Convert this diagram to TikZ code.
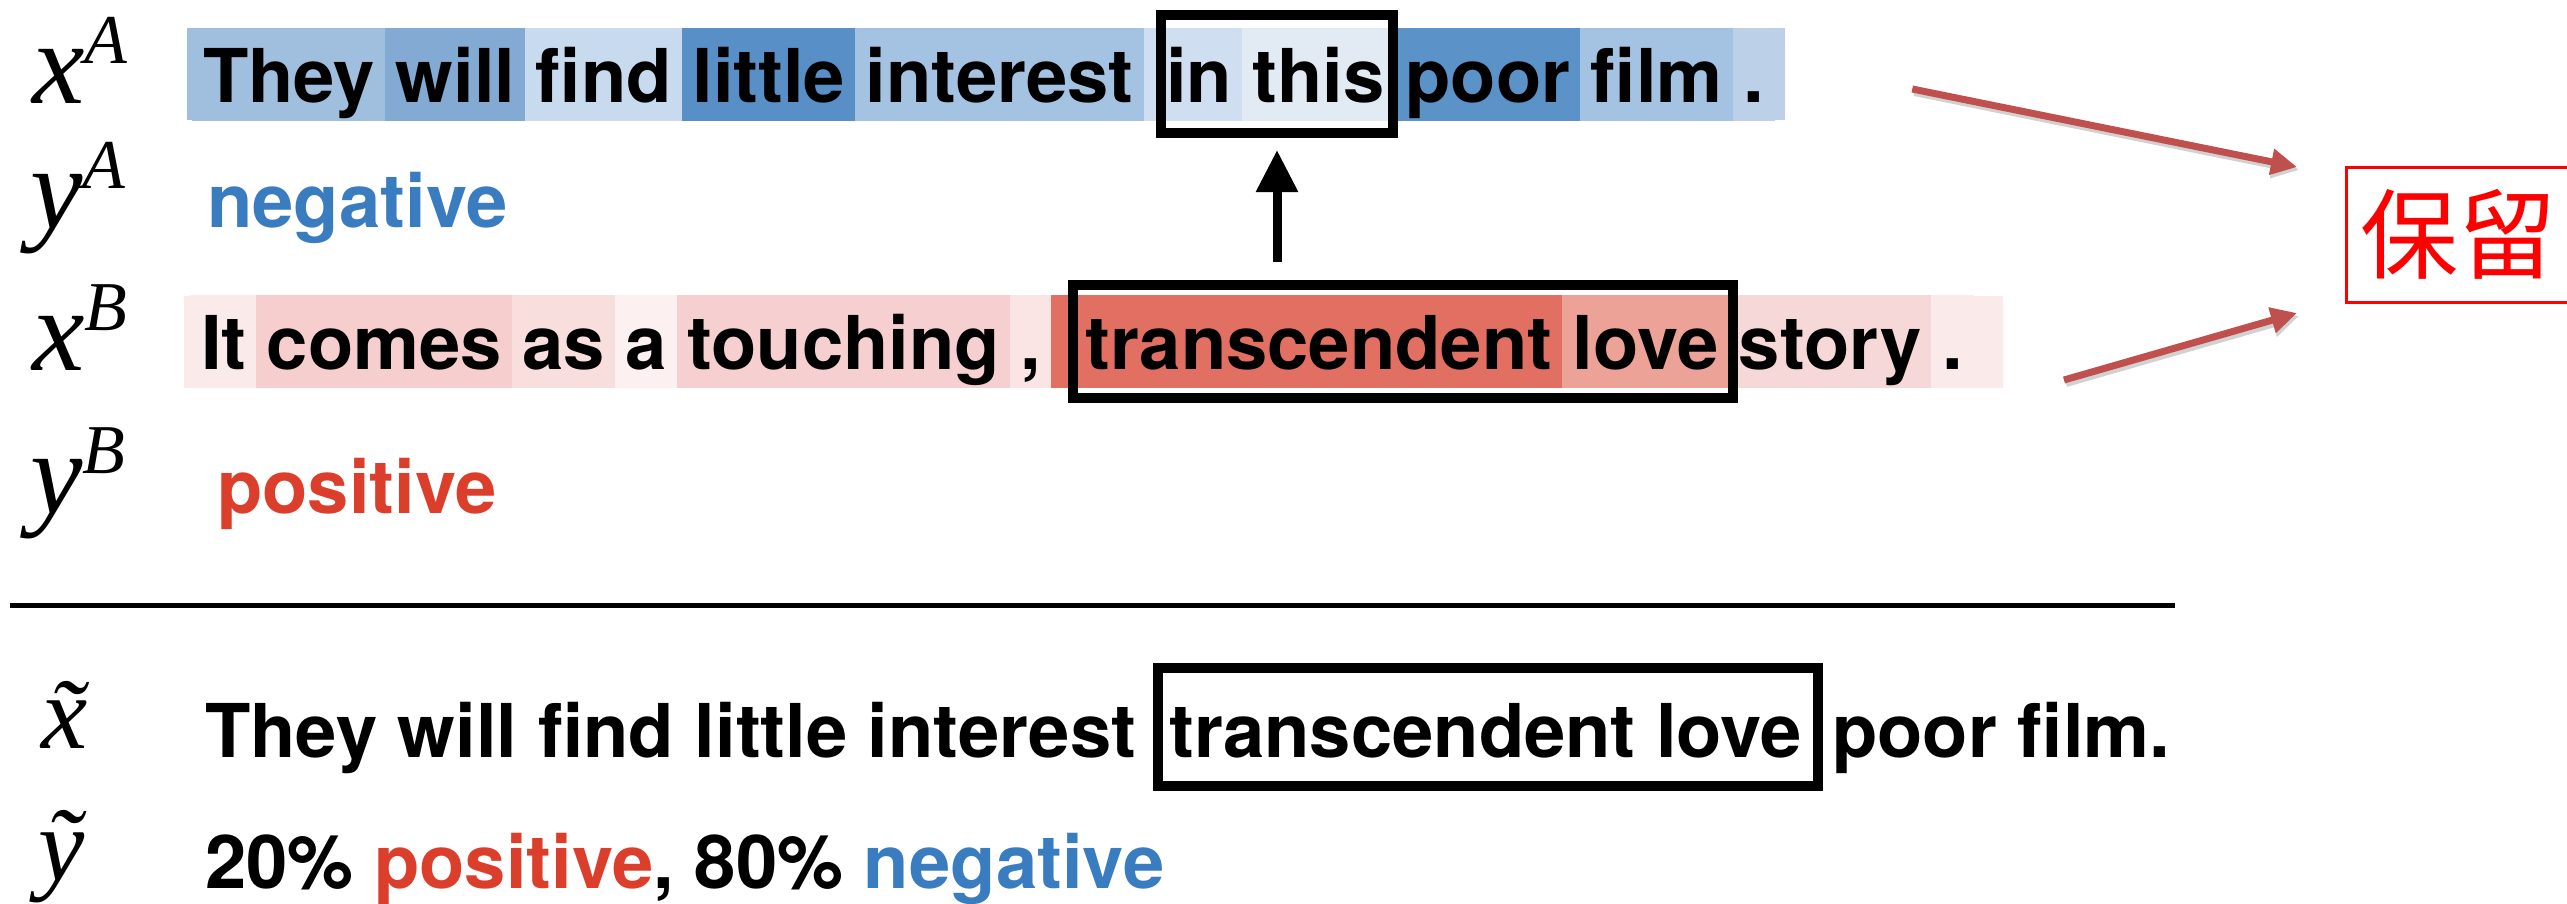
\documentclass[tikz,border=0pt]{standalone}
\usepackage{fontspec}
\usetikzlibrary{arrows.meta}

\newfontfamily\herosface{TeX Gyre Heros}
\newfontfamily\serifface{Liberation Serif}
\newfontfamily\cjkface{Noto Sans CJK SC}

\newcommand\tokfont{\herosface\bfseries\fontsize{74.2pt}{80pt}\selectfont}
\newcommand\labfont{\serifface\itshape\fontsize{118pt}{120pt}\selectfont}
\newcommand\tilfont{\serifface\itshape\fontsize{104pt}{106pt}\selectfont}
\newcommand\suplabel[2]{#1\raisebox{40pt}{\fontsize{70pt}{72pt}\selectfont #2}}

% attention shades, sentence A (blue)
\definecolor{a1}{RGB}{160,190,222}
\definecolor{a2}{RGB}{130,170,210}
\definecolor{a3}{RGB}{200,218,238}
\definecolor{a4}{RGB}{88,143,199}
\definecolor{a5}{RGB}{164,194,225}
\definecolor{a6}{RGB}{207,222,240}
\definecolor{a7}{RGB}{226,234,244}
\definecolor{a8}{RGB}{91,146,200}
\definecolor{a9}{RGB}{164,194,226}
\definecolor{a10}{RGB}{188,208,232}
% attention shades, sentence B (red)
\definecolor{b1}{RGB}{251,234,234}
\definecolor{b2}{RGB}{246,206,206}
\definecolor{b3}{RGB}{249,222,222}
\definecolor{b4}{RGB}{252,240,240}
\definecolor{b5}{RGB}{246,208,208}
\definecolor{b6}{RGB}{251,228,228}
\definecolor{b7}{RGB}{226,112,98}
\definecolor{b8}{RGB}{236,162,150}
\definecolor{b9}{RGB}{247,216,216}
\definecolor{b10}{RGB}{251,234,234}

\definecolor{negblue}{RGB}{58,124,192}
\definecolor{posred}{RGB}{219,63,44}
\definecolor{arrowred}{RGB}{192,80,77}
\definecolor{keepred}{RGB}{255,0,0}

\begin{document}
\begin{tikzpicture}[x=1pt,y=-1pt,
  tok/.style={inner xsep=10.3pt, inner ysep=0pt, outer sep=0pt, anchor=west,
    text height=74pt, text depth=18pt, font=\tokfont, line width=0.6pt},
  txt/.style={inner sep=0pt, anchor=base west, font=\tokfont},
  lab/.style={inner sep=0pt, anchor=base west, font=\labfont},
  hbox/.style={draw=black, line width=10pt, inner sep=0pt, outer sep=0pt},
  blkarrow/.style={draw=black, line width=9pt, -{Triangle[length=42pt,width=40pt]}},
  redarrow/.style={draw=arrowred, line width=7pt, -{Triangle[length=26pt,width=25pt]}},
  redshadow/.style={draw=black, opacity=0.18, line width=8pt, -{Triangle[length=27pt,width=26pt]},
    transform canvas={xshift=2pt,yshift=-3pt}},
  keepbox/.style={draw=keepred, line width=3pt, inner sep=0pt, outer sep=0pt,
    minimum width=224pt, minimum height=135pt, text=keepred,
    font=\cjkface\fontsize{98pt}{100pt}\selectfont},
]
\useasboundingbox (0,0) rectangle (2567,903);
\clip (0,0) rectangle (2567,903);

% row labels
\node[lab] (lxa) at (32,103) {\suplabel{x}{A}};
\node[lab] (lya) at (30,228) {\suplabel{y}{A}};
\node[lab] (lxb) at (32,370) {\suplabel{x}{B}};
\node[lab] (lyb) at (30,513) {\suplabel{y}{B}};
\node[lab, font=\tilfont] (lxt) at (41,748) {x^^^^0303};
\node[lab, font=\tilfont] (lyt) at (38,880) {^^^^1ef9};

% sentence A with token shading
\foreach \w/\g [count=\i, remember=\i as \j (initially 0)] in
  {They/0,will/0,find/0,little/0,interest/0,in/12,this/0,poor/0,film/0,./0} {
  \ifnum\i=1
    \node[tok, fill=a\i, draw=a\i] (A\i) at (192.7,74) {\hspace*{\g pt}\w};
  \else
    \node[tok, fill=a\i, draw=a\i] (A\i) at (A\j.east) {\hspace*{\g pt}\w};
  \fi
}
\fill[a1] (187,28) rectangle (A1.south west);
\fill[a10] (A10.north east) rectangle (1785,120);

% sentence B with token shading
\foreach \w/\g [count=\i, remember=\i as \j (initially 0)] in
  {It/0,comes/0,as/0,a/0,touching/0,{,}/0,transcendent/24,love/0,story/0,./0} {
  \ifnum\i=1
    \node[tok, fill=b\i, draw=b\i] (B\i) at (190.7,341.5) {\hspace*{\g pt}\w};
  \else
    \node[tok, fill=b\i, draw=b\i] (B\i) at (B\j.east) {\hspace*{\g pt}\w};
  \fi
}
\fill[b1] (184,295.5) rectangle (B1.south west);
\fill[b10] (B10.north east) rectangle (2003,387.5);

% labels
\node[txt, text=negblue] (ya) at (207,227) {negative};
\node[txt, text=posred] (yb) at (217,513) {positive};

% highlighted spans
\node[hbox, minimum width=232pt, minimum height=118pt] (boxA) at (1277,74) {};
\node[hbox, minimum width=660pt, minimum height=113pt] (boxB) at (1403,341.5) {};
\draw[blkarrow, shorten <=23pt, shorten >=17pt] (boxA.south |- boxB.north) -- (boxA.south);

% separator
\coordinate (r1) at (10,605);
\coordinate (r2) at (2175,605);
\draw[line width=5pt] (r1) -- (r2);

% mixed sentence and mixed label
\node[txt] (xt1) at (205,757) {They will find little interest};
\node[txt] (xt2) at ([xshift=33pt]xt1.base east) {transcendent love};
\node[txt] (xt3) at ([xshift=30pt]xt2.base east) {poor film.};
\node[hbox, minimum width=660pt, minimum height=118pt] (boxC) at (1488,727) {};
\node[txt] (yt) at (205,888) {20\% \textcolor{posred}{positive}, 80\% \textcolor{negblue}{negative}};

% retained box and arrows
\node[keepbox] (keep) at (2458,234.5) {保留};
\coordinate (sa) at ([xshift=138pt,yshift=-15pt]A10.east);
\coordinate (ta) at ([xshift=-49pt]keep.north west);
\coordinate (sb) at ([xshift=91pt,yshift=-38.5pt]B10.east);
\coordinate (tb) at ([xshift=-49pt,yshift=-11pt]keep.south west);
\draw[redshadow] (sa) -- (ta);
\draw[redshadow] (sb) -- (tb);
\draw[redarrow] (sa) -- (ta);
\draw[redarrow] (sb) -- (tb);
\end{tikzpicture}
\end{document}
